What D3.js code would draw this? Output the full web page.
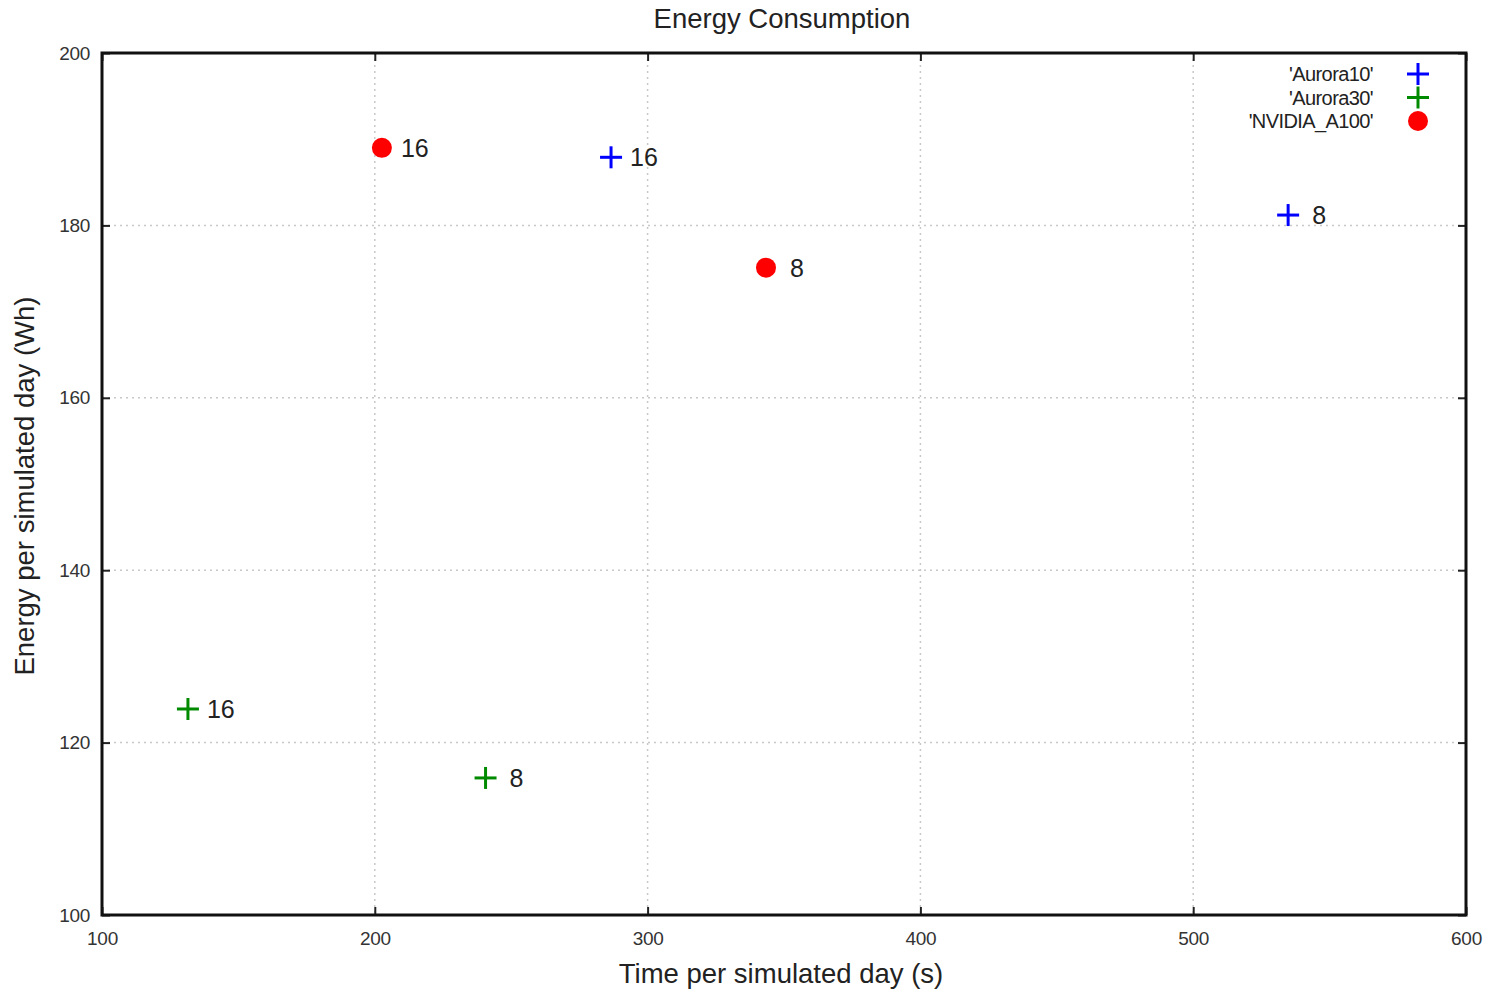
<!DOCTYPE html>
<html><head><meta charset="utf-8">
<script src="https://cdn.jsdelivr.net/npm/d3@7"></script>
<style>body{margin:0;background:#fff}svg{display:block}text{font-family:"Liberation Sans",Arial,sans-serif}</style>
</head><body>
<svg id="c" width="1486" height="990"></svg>
<script>
const seriesNames = ["'Aurora10'", "'Aurora30'", "'NVIDIA_A100'"];
const seriesColors = ["#0000ff", "#008a00", "#ff0000"];
const seriesShapes = ["plus", "plus", "circle"];
const aurora10 = [{x: 286.6, y: 187.9, label: "16"}, {x: 534.8, y: 181.2, label: "8"}];
const aurora30 = [{x: 131.5, y: 123.9, label: "16"}, {x: 240.6, y: 115.9, label: "8"}];
const nvidia = [{x: 202.6, y: 189.0, label: "16"}, {x: 343.4, y: 175.1, label: "8"}];
const xTicks = [100, 200, 300, 400, 500, 600];
const yTicks = [100, 120, 140, 160, 180, 200];
const title = "Energy Consumption";
const xLabel = "Time per simulated day (s)";
const yLabel = "Energy per simulated day (Wh)";

const svg = d3.select("#c");
const L = 102, R = 1466, T = 53, B = 915;
const x = d3.scaleLinear().domain([100, 600]).range([L, R]);
const y = d3.scaleLinear().domain([100, 200]).range([B, T]);

// grid
const g = svg.append("g");
g.selectAll(".gx").data(xTicks.slice(1, -1)).join("line")
  .attr("x1", d => x(d)).attr("x2", d => x(d)).attr("y1", T).attr("y2", B)
  .attr("stroke", "#c8c8c8").attr("stroke-width", 1.5).attr("stroke-dasharray", "2,4");
g.selectAll(".gy").data(yTicks.slice(1, -1)).join("line")
  .attr("y1", d => y(d)).attr("y2", d => y(d)).attr("x1", L).attr("x2", R)
  .attr("stroke", "#c8c8c8").attr("stroke-width", 1.5).attr("stroke-dasharray", "2,4");

// axes with inward ticks (mirrored)
const tickLen = 8;
const fmt = d3.format("d");
const axB = svg.append("g").attr("transform", `translate(0,${B})`)
  .call(d3.axisBottom(x).tickValues(xTicks).tickSize(-tickLen).tickPadding(17).tickFormat(fmt));
const axT = svg.append("g").attr("transform", `translate(0,${T})`)
  .call(d3.axisTop(x).tickValues(xTicks).tickSize(-tickLen).tickFormat(""));
const axL = svg.append("g").attr("transform", `translate(${L},0)`)
  .call(d3.axisLeft(y).tickValues(yTicks).tickSize(-tickLen).tickPadding(12).tickFormat(fmt));
const axR = svg.append("g").attr("transform", `translate(${R},0)`)
  .call(d3.axisRight(y).tickValues(yTicks).tickSize(-tickLen).tickFormat(""));
[axB, axT, axL, axR].forEach(a => {
  a.select(".domain").remove();
  a.selectAll(".tick line").attr("stroke", "#222").attr("stroke-width", 2);
  a.selectAll(".tick text").attr("font-size", 19).attr("fill", "#333")
    .attr("letter-spacing", "-0.3")
    .attr("font-family", "'Liberation Sans',Arial,sans-serif");
});
axB.selectAll(".tick text").attr("dy", "0.71em");

// border
svg.append("rect").attr("x", L).attr("y", T).attr("width", R - L).attr("height", B - T)
  .attr("fill", "none").attr("stroke", "#111").attr("stroke-width", 3);

// titles
svg.append("text").attr("x", 782).attr("y", 28).attr("text-anchor", "middle")
  .attr("font-size", 27.5).attr("fill", "#222").text(title);
svg.append("text").attr("x", 781).attr("y", 983).attr("text-anchor", "middle")
  .attr("font-size", 27.5).attr("fill", "#222").text(xLabel);
svg.append("text").attr("transform", "translate(34,486) rotate(-90)").attr("text-anchor", "middle")
  .attr("font-size", 27.5).attr("fill", "#222").text(yLabel);

function drawMarker(sel, shape, color) {
  if (shape === "plus") {
    sel.append("line").attr("x1", -11).attr("x2", 11).attr("y1", 0).attr("y2", 0)
      .attr("stroke", color).attr("stroke-width", 3);
    sel.append("line").attr("y1", -11).attr("y2", 11).attr("x1", 0).attr("x2", 0)
      .attr("stroke", color).attr("stroke-width", 3);
  } else {
    sel.append("circle").attr("r", 10).attr("fill", color);
  }
}

const allSeries = [aurora10, aurora30, nvidia];
allSeries.forEach((data, i) => {
  const pts = svg.append("g").selectAll("g").data(data).join("g")
    .attr("transform", d => `translate(${x(d.x)},${y(d.y)})`);
  pts.each(function() { drawMarker(d3.select(this), seriesShapes[i], seriesColors[i]); });
  pts.append("text").attr("x", d => 19 + (2 - d.label.length) * 5).attr("y", 9)
    .attr("font-size", 25).attr("fill", "#222")
    .text(d => d.label);
});

// legend
const leg = svg.append("g");
seriesNames.forEach((name, i) => {
  const yy = 74 + i * 23.5;
  leg.append("text").attr("x", 1373).attr("y", yy + 7).attr("text-anchor", "end")
    .attr("font-size", 20).attr("fill", "#222").attr("letter-spacing", "-0.6").text(name);
  const m = leg.append("g").attr("transform", `translate(1418,${yy})`);
  drawMarker(m, seriesShapes[i], seriesColors[i]);
});
</script>
</body></html>
